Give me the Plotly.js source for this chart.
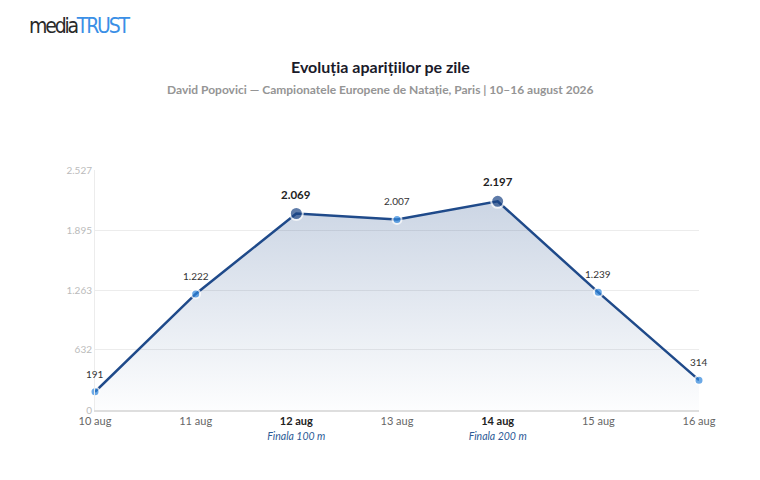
<!DOCTYPE html>
<html><head><meta charset="utf-8">
<script src="https://cdn.plot.ly/plotly-3.0.1.min.js"></script>
<style>body{margin:0;background:#fff}#c{width:760px;height:480px}</style>
</head><body><div id="c"></div>
<script>
var days = ['10 aug','11 aug','12 aug','13 aug','14 aug','15 aug','16 aug'];
var values = [191, 1222, 2069, 2007, 2197, 1239, 314];
var labels = ['191','1.222','2.069','2.007','2.197','1.239','314'];
var highlight = [false,false,true,false,true,false,false];
var events = ['','','Finala 100 m','','Finala 200 m','',''];
var yTicks = [0, 632, 1263, 1895, 2527];
var yTickText = ['0','632','1.263','1.895','2.527'];

var x = days.map(function(d,i){return i;});
var tickText = days.map(function(d,i){
  var s = highlight[i] ? '<b><span style="color:#222">'+d+'</span></b>' : '<span style="color:#666">'+d+'</span>';
  if (events[i]) s += '<br><i><span style="color:#2c5a96;font-size:10.5px">'+events[i]+'</span></i>';
  return s;
});

var trace = {
  x: x, y: values, type:'scatter', mode:'lines+markers',
  fill:'tozeroy',
  fillgradient:{type:'vertical', colorscale:[[0,'rgba(31,74,138,0.01)'],[1,'rgba(31,74,138,0.23)']]},
  line:{color:'#1f4a8a', width:2.5},
  marker:{
    size: highlight.map(function(h){return h?13:9;}),
    color: highlight.map(function(h){return h?'#1c4585':'#2f86dc';}),
    line:{color:'#fff', width:2}
  },
  cliponaxis:false, hoverinfo:'none'
};

var ann = values.map(function(v,i){
  return {x:i, y:v, xref:'x', yref:'y', xanchor:'center', yanchor:'bottom', yshift: highlight[i]?11:10,
    showarrow:false, text: highlight[i]?'<b>'+labels[i]+'</b>':labels[i],
    font:{family:'Lato, sans-serif', size: highlight[i]?11.5:10, color: highlight[i]?'#222':'#333'}};
});
ann.push(
  {xref:'paper', yref:'paper', x:-0.112, y:1.6, xanchor:'left', yanchor:'middle', showarrow:false,
   text:'<span style="color:#2a2a2a;font-stretch:condensed;letter-spacing:-2.2px">media</span><span style="color:#3a8fe6;font-stretch:condensed;letter-spacing:-2.2px">TRUST</span>',
   font:{family:'Liberation Sans Narrow, DejaVu Sans Condensed, DejaVu Sans, sans-serif', size:21, weight:300}},
  {xref:'paper', yref:'paper', x:0.472, y:1.433, xanchor:'center', yanchor:'middle', showarrow:false,
   text:'<b>Evoluția aparițiilor pe zile</b>', font:{family:'Lato, sans-serif', size:16, color:'#1a1a2a'}},
  {xref:'paper', yref:'paper', x:0.472, y:1.3375, xanchor:'center', yanchor:'middle', showarrow:false,
   text:'<b>David Popovici — Campionatele Europene de Natație, Paris | 10–16 august 2026</b>', font:{family:'Lato, sans-serif', size:12, color:'#959595'}}
);

var layout = {
  width:760, height:480,
  margin:{l:95, r:61, t:170, b:70},
  paper_bgcolor:'#fff', plot_bgcolor:'#fff',
  font:{family:'Lato, sans-serif'},
  showlegend:false,
  xaxis:{range:[0,6], tickvals:x, ticktext:tickText, showgrid:false, zeroline:false,
    showline:true, linecolor:'#dedede', linewidth:2, ticks:'', tickfont:{size:11, color:'#666'}, fixedrange:true},
  yaxis:{range:[0,2527], tickvals:yTicks, ticktext:yTickText, showgrid:true, gridcolor:'#ececec', gridwidth:1,
    zeroline:false, showline:true, linecolor:'#ececec', linewidth:1, ticks:'', ticklen:0,
    tickfont:{size:10, color:'#bbb'}, fixedrange:true},
  annotations: ann
};
Plotly.newPlot('c',[trace],layout,{displayModeBar:false, staticPlot:true});
</script></body></html>
